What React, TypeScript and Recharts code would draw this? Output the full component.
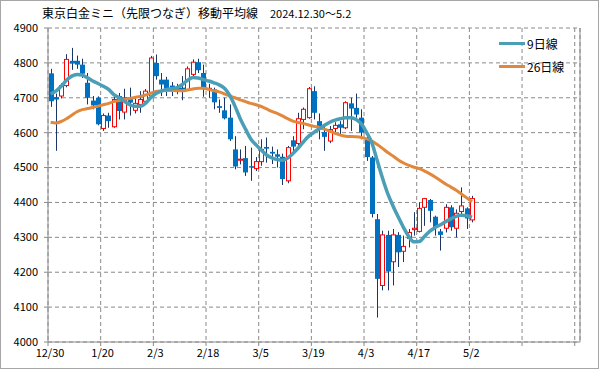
import React from 'react';
import {
  ComposedChart, Bar, Line, XAxis, YAxis, CartesianGrid, ReferenceLine,
} from 'recharts';

// x-axis labels, one every 10 trading days (band edges)
const tickPositions = [0, 10, 20, 30, 40, 50, 60, 70, 80, 90, 100];
const tickLabels = ['12/30', '1/20', '2/3', '2/18', '3/5', '3/19', '4/3', '4/17', '5/2', '', ''];
const priceTicks = [4000, 4100, 4200, 4300, 4400, 4500, 4600, 4700, 4800, 4900];

const opens = [
  4770, 4702, 4705, 4735, 4806, 4806, 4795, 4743, 4692, 4700,
  4612, 4649, 4617, 4705, 4659, 4700, 4664, 4681, 4690, 4705,
  4800, 4752, 4752, 4735, 4729, 4729, 4724, 4767, 4802, 4771,
  4724, 4724, 4676, 4664, 4643, 4552, 4521, 4527, 4504, 4497,
  4517, 4559, 4545, 4538, 4531, 4462, 4578, 4569, 4638, 4643,
  4719, 4633, 4602, 4576, 4612, 4624, 4614, 4684, 4671, 4643,
  4580, 4529, 4352, 4162, 4307, 4230, 4307, 4260, 4297, 4322,
  4317, 4386, 4407, 4359, 4317, 4326, 4386, 4326, 4374, 4383,
  4350,
];
const highs = [
  4783, 4712, 4742, 4825, 4843, 4821, 4812, 4771, 4705, 4704,
  4655, 4657, 4705, 4714, 4726, 4729, 4700, 4719, 4725, 4820,
  4824, 4771, 4760, 4745, 4740, 4762, 4790, 4810, 4812, 4795,
  4740, 4729, 4695, 4700, 4681, 4590, 4552, 4562, 4557, 4530,
  4581, 4586, 4560, 4552, 4540, 4562, 4590, 4657, 4672, 4731,
  4733, 4655, 4624, 4619, 4630, 4633, 4690, 4700, 4712, 4667,
  4600, 4533, 4367, 4319, 4319, 4324, 4315, 4305, 4324, 4372,
  4400, 4413, 4410, 4362, 4324, 4395, 4392, 4380, 4443, 4386,
  4419,
];
const lows = [
  4674, 4548, 4698, 4730, 4780, 4783, 4757, 4681, 4667, 4621,
  4605, 4614, 4614, 4638, 4638, 4649, 4655, 4657, 4680, 4700,
  4752, 4705, 4705, 4705, 4710, 4693, 4720, 4760, 4771, 4703,
  4700, 4667, 4657, 4638, 4576, 4495, 4509, 4476, 4462, 4490,
  4505, 4514, 4510, 4500, 4450, 4455, 4543, 4562, 4610, 4640,
  4638, 4581, 4548, 4570, 4600, 4595, 4610, 4605, 4643, 4581,
  4519, 4357, 4070, 4148, 4148, 4162, 4215, 4229, 4271, 4305,
  4314, 4333, 4343, 4305, 4262, 4314, 4319, 4300, 4367, 4324,
  4343,
];
const closes = [
  4690, 4695, 4735, 4810, 4798, 4795, 4769, 4700, 4678, 4624,
  4649, 4633, 4695, 4662, 4700, 4686, 4684, 4695, 4719, 4814,
  4762, 4738, 4726, 4726, 4722, 4719, 4783, 4802, 4779, 4729,
  4727, 4687, 4671, 4641, 4581, 4503, 4524, 4486, 4500, 4517,
  4552, 4554, 4540, 4531, 4467, 4557, 4560, 4640, 4667, 4726,
  4657, 4609, 4588, 4609, 4621, 4614, 4686, 4669, 4652, 4600,
  4530, 4367, 4181, 4307, 4202, 4307, 4257, 4274, 4314, 4326,
  4383, 4411, 4376, 4329, 4307, 4386, 4329, 4369, 4390, 4354,
  4411,
];
const ma9 = [
  4711, 4719, 4733, 4750, 4762, 4767, 4765, 4757, 4748, 4741,
  4733, 4724, 4709, 4700, 4690, 4680, 4676, 4676, 4684, 4700,
  4712, 4719, 4724, 4726, 4729, 4738, 4750, 4758, 4757, 4752,
  4748, 4743, 4737, 4727, 4707, 4676, 4640, 4610, 4582, 4565,
  4550, 4536, 4528, 4523, 4521, 4527, 4540, 4556, 4574, 4590,
  4601, 4611, 4621, 4630, 4636, 4640, 4643, 4643, 4638, 4625,
  4600, 4570, 4520, 4470, 4425, 4390, 4358, 4328, 4302, 4287,
  4288, 4303, 4318, 4328, 4336, 4345, 4353, 4360, 4363, 4362,
  4358,
];
const ma26 = [
  4630, 4628, 4632, 4640, 4650, 4660, 4666, 4669, 4672, 4676,
  4680, 4684, 4689, 4692, 4695, 4698, 4701, 4704, 4708, 4713,
  4718, 4720, 4721, 4721, 4720, 4720, 4722, 4725, 4727, 4727,
  4724, 4720, 4717, 4711, 4705, 4700, 4694, 4689, 4684, 4680,
  4675, 4668, 4661, 4655, 4648, 4640, 4633, 4629, 4626, 4622,
  4618, 4615, 4610, 4604, 4598, 4593, 4590, 4589, 4588, 4586,
  4582, 4576, 4566, 4555, 4543, 4533, 4522, 4513, 4506, 4501,
  4497, 4490, 4482, 4473, 4463, 4453, 4444, 4435, 4424, 4413,
  4402,
];

const TEAL = '#4A9EB6';
const ORANGE = '#E2883C';
const GRID = '#8a8a8a';

const rows = opens.map((o, i) => ({
  x: i + 0.5,
  open: o,
  high: highs[i],
  low: lows[i],
  close: closes[i],
  range: [lows[i], highs[i]],
  ma9: ma9[i],
  ma26: ma26[i],
}));

function Candle(props: any) {
  const { x, y, width, height, payload } = props;
  if (!payload) return null;
  const { open, close, high, low } = payload;
  const top = Math.min(y, y + height);
  const h = Math.abs(height);
  const toY = (v: number) => top + ((high - v) / (high - low || 1)) * h;
  const cx = Math.round(x + width / 2) + 0.5;
  const yO = toY(open);
  const yC = toY(close);
  const bTop = Math.min(yO, yC);
  const bH = Math.max(Math.abs(yC - yO), 1);
  const up = close >= open;
  return (
    <g>
      <line x1={cx} x2={cx} y1={top} y2={top + h} stroke="#1c3567" strokeWidth={1} />
      {up ? (
        <rect x={cx - 2} y={bTop} width={4} height={bH} fill="#fff" stroke="#ff0000" strokeWidth={1} />
      ) : (
        <rect x={cx - 2.5} y={bTop} width={5} height={bH} fill="#0070c0" />
      )}
    </g>
  );
}

const legendItems = [
  { name: '9日線', color: TEAL, top: 35 },
  { name: '26日線', color: ORANGE, top: 58 },
];

export default function App() {
  return (
    <div
      style={{
        position: 'absolute', left: 0, top: 0, width: 599, height: 369,
        background: '#fff', fontFamily: '"Noto Sans CJK JP", "Noto Sans", sans-serif',
      }}
    >
      <div style={{ position: 'absolute', left: 42, top: 4, fontSize: 12, color: '#000', whiteSpace: 'pre' }}>
        東京白金ミニ（先限つなぎ）移動平均線　<span style={{ fontSize: 11 }}>2024.12.30～5.2</span>
      </div>
      <ComposedChart
        width={599}
        height={369}
        data={rows}
        margin={{ top: 28, right: 19, bottom: 7, left: 0 }}
      >
        <CartesianGrid stroke={GRID} strokeDasharray="4 3" />
        <XAxis
          type="number"
          dataKey="x"
          domain={[0, 101]}
          ticks={tickPositions}
          interval={0}
          allowDataOverflow
          tickFormatter={(v: number) => tickLabels[Math.round(v / 10)]}
          tick={{ fontSize: 11, fill: '#000', dx: 2 }}
          tickSize={4}
          tickMargin={3}
          height={20}
          axisLine={{ stroke: GRID }}
          tickLine={{ stroke: GRID }}
        />
        <YAxis
          domain={[4000, 4900]}
          ticks={priceTicks}
          interval={0}
          allowDataOverflow
          tick={{ fontSize: 11, fill: '#000' }}
          tickSize={4}
          tickMargin={6}
          width={48}
          axisLine={{ stroke: GRID }}
          tickLine={{ stroke: GRID }}
        />
        <ReferenceLine x={101} stroke={GRID} />
        <Bar dataKey="range" barSize={5} shape={<Candle />} isAnimationActive={false} />
        <Line type="monotone" dataKey="ma26" stroke={ORANGE} strokeWidth={3} dot={false} isAnimationActive={false} />
        <Line type="monotone" dataKey="ma9" stroke={TEAL} strokeWidth={3.5} dot={false} isAnimationActive={false} />
      </ComposedChart>
      {legendItems.map((it) => (
        <div
          key={it.name}
          style={{ position: 'absolute', left: 499, top: it.top, display: 'flex', alignItems: 'center', fontSize: 12, color: '#000' }}
        >
          <span style={{ display: 'inline-block', width: 26, height: 3, background: it.color, marginRight: 2 }} />
          {it.name}
        </div>
      ))}
      <div style={{ position: 'absolute', inset: 0, border: '1px solid #a6a6a6', boxSizing: 'border-box', pointerEvents: 'none' }} />
    </div>
  );
}
